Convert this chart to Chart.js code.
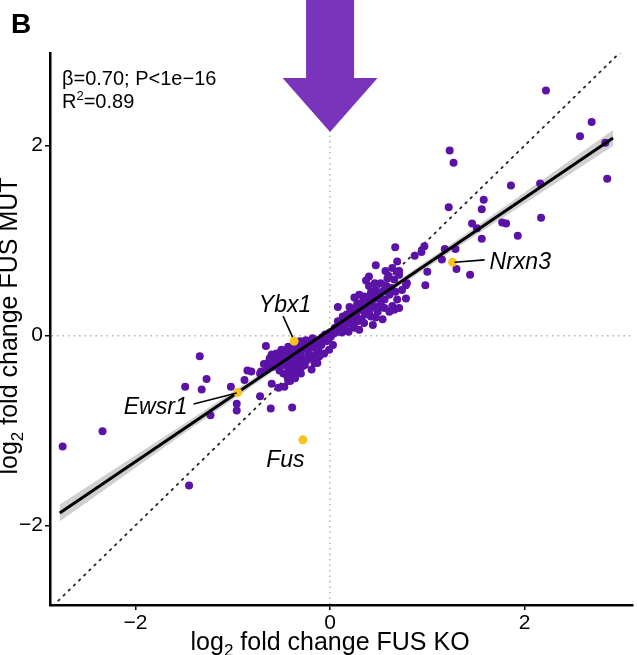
<!DOCTYPE html>
<html>
<head>
<meta charset="utf-8">
<script src="https://cdn.jsdelivr.net/npm/chart.js@4.4.0/dist/chart.umd.min.js"></script>
<style>
  html, body { margin: 0; padding: 0; background: #fff; }
  canvas { display: block; }
</style>
</head>
<body>
<canvas id="scatter" width="637" height="655"></canvas>
<script>
// log2 fold change: [FUS KO, FUS MUT] for each gene
const purplePoints = [
  [-2.75, -1.17], [-2.34, -1.01], [-1.45, -1.58], [-1.34, -0.22], [-1.27, -0.46], [-1.49, -0.54],
  [-1.32, -0.57], [-1.02, -0.54], [-0.96, -0.72], [-0.96, -0.79], [-1.23, -0.84],
  [-0.66, -0.11], [-0.85, -0.37], [-0.81, -0.38], [-0.88, -0.47], [-0.71, -0.38], [-0.72, -0.64],
  [-0.61, -0.77], [-0.39, -0.76], [-0.60, -0.51], [-0.53, -0.55], [-0.47, -0.54], [-0.41, -0.48],
  [-0.42, -0.41], [-0.30, -0.40], [-0.27, -0.31], [-0.36, -0.33], [-0.16, -0.29], [-0.11, -0.22],
  [-0.72, -0.40],
  [-0.31, -0.06], [-0.25, -0.05], [-0.18, -0.03], [-0.13, -0.06], [-0.28, -0.12], [-0.36, -0.13],
  [-0.43, -0.12], [-0.50, -0.15], [-0.55, -0.19], [-0.47, -0.20], [-0.40, -0.19], [-0.33, -0.17],
  [-0.23, -0.15], [-0.16, -0.13], [-0.09, -0.10], [-0.04, -0.06], [-0.53, -0.26], [-0.45, -0.27],
  [-0.36, -0.26], [-0.28, -0.24], [-0.21, -0.22], [-0.14, -0.20], [-0.26, -0.31], [-0.33, -0.34],
  [-0.42, -0.36], [-0.48, -0.40], [-0.59, -0.33], [-0.64, -0.29], [-0.60, -0.20], [-0.52, -0.31],
  [0.01, -0.01], [0.06, 0.04], [0.11, 0.08], [0.18, 0.13], [0.23, 0.18], [0.08, 0.15],
  [0.03, -0.10], [-0.01, -0.15], [-0.06, -0.19], [-0.19, -0.36], [-0.13, -0.29], [-0.36, -0.45],
  [-0.43, -0.48], [-0.20, -0.10], [-0.08, -0.02], [-0.05, 0.01], [-0.02, -0.04], [0.04, 0.02],
  [0.00, 0.03], [-0.15, -0.05], [-0.35, -0.09], [-0.40, -0.22], [-0.30, -0.20], [-0.22, -0.18],
  [-0.12, -0.14], [-0.50, -0.23], [-0.56, -0.29], [-0.10, -0.20], [-0.01, -0.03],
  [-0.62, -0.24], [-0.57, -0.22], [-0.45, -0.16], [-0.38, -0.15], [-0.32, -0.10], [-0.26, -0.08],
  [-0.21, -0.06], [-0.17, -0.09], [-0.11, -0.08], [-0.07, -0.05], [-0.03, -0.01], [-0.45, -0.32],
  [-0.39, -0.29], [-0.31, -0.27], [-0.24, -0.26], [-0.18, -0.24], [-0.52, -0.37], [-0.44, -0.43],
  [-0.37, -0.39], [-0.29, -0.33], [-0.65, -0.36], [-0.68, -0.30], [-0.25, -0.14], [-0.34, -0.22],
  [-0.48, -0.28],
  [0.37, 0.58], [0.40, 0.52], [0.47, 0.48], [0.25, 0.40], [0.30, 0.43], [0.35, 0.41],
  [0.42, 0.45], [0.49, 0.39], [0.56, 0.38], [0.61, 0.43], [0.59, 0.60], [0.66, 0.59],
  [0.71, 0.64], [0.69, 0.67], [0.79, 0.55], [0.74, 0.48], [0.69, 0.38], [0.78, 0.39],
  [0.64, 0.31], [0.61, 0.25], [0.52, 0.32], [0.45, 0.31], [0.39, 0.29], [0.32, 0.27],
  [0.27, 0.22], [0.22, 0.20], [0.18, 0.17], [0.15, 0.13], [0.11, 0.10], [0.07, 0.04],
  [0.23, 0.11], [0.32, 0.17], [0.42, 0.20], [0.49, 0.25], [0.56, 0.29], [0.39, 0.35],
  [0.28, 0.34], [0.20, 0.30], [0.08, 0.30], [0.16, 0.06], [0.25, 0.08], [0.35, 0.13],
  [0.44, 0.11], [0.54, 0.17], [0.66, 0.27], [0.71, 0.29], [0.13, 0.20],
  [0.05, 0.08], [0.09, 0.12], [0.13, 0.16], [0.17, 0.22], [0.21, 0.25], [0.26, 0.29],
  [0.30, 0.31], [0.34, 0.36], [0.38, 0.40], [0.43, 0.38], [0.47, 0.42], [0.51, 0.44],
  [0.55, 0.47], [0.58, 0.52], [0.52, 0.55], [0.46, 0.55], [0.63, 0.50], [0.67, 0.46],
  [0.28, 0.15], [0.36, 0.22], [0.41, 0.27], [0.47, 0.19], [0.19, 0.04], [0.12, 0.03],
  [0.30, 0.06], [0.57, 0.68], [0.64, 0.71], [0.40, 0.62],
  [0.67, 0.93], [0.97, 0.94], [0.94, 0.88], [0.87, 0.84], [1.18, 0.91], [1.29, 0.91],
  [1.46, 1.18], [1.15, 0.80], [1.30, 0.70], [1.44, 0.64], [0.47, 0.74], [0.69, 0.78],
  [1.00, 0.67], [0.98, 0.53], [0.71, 0.68], [0.60, 0.63], [0.78, 0.53],
  [2.22, 2.58], [2.69, 2.25], [2.57, 2.10], [2.83, 2.03], [2.85, 1.65], [1.23, 1.95],
  [1.27, 1.82], [1.86, 1.58], [2.16, 1.60], [1.58, 1.43], [1.56, 1.33], [1.22, 1.35],
  [1.51, 1.13], [1.77, 1.19], [1.81, 1.18], [2.17, 1.24], [1.93, 1.05], [1.56, 1.02]
];

const highlightNames = ['Ybx1', 'Ewsr1', 'Nrxn3', 'Fus'];
const highlightKO = [-0.37, -0.95, 1.26, -0.28];
const highlightMUT = [-0.06, -0.60, 0.77, -1.10];

// regression line and its confidence band
const fitKO = [-2.78, 2.91];
const fitMUT = [-1.87, 2.08];
const bandKO = [-2.78, -1.5, 0, 1.5, 2.91];
const bandHigh = [-1.78, -0.93, 0.085, 1.145, 2.165];
const bandLow = [-1.96, -1.03, 0.035, 1.055, 1.995];

// identity line y = x
const diagKO = [-2.9, 3.1];

const xTicks = [-2, 0, 2];
const yTicks = [-2, 0, 2];
const statsLine = 'β=0.70; P<1e−16';
const r2Value = '=0.89';

const FONT = '"Liberation Sans", Arial, Helvetica, sans-serif';
const PURPLE = '#5B12A6';
const YELLOW = '#F7C31C';

const toXY = (xs, ys) => xs.map((x, i) => ({ x, y: ys[i] }));
const fmtTick = v => (v < 0 ? '\u2212' + Math.abs(v) : String(v));

// label placement relative to the gene point (pixels)
const labelPlace = {
  Ybx1: { dx: -9, dy: -29, align: 'center', lead: [-11, -25, -1.5, -4] },
  Ewsr1: { dx: -82, dy: 22, align: 'center', lead: [-44, 11.6, -1, 0.6] },
  Nrxn3: { dx: 37, dy: 6.5, align: 'left', lead: [2, -0.2, 32, -2.5] },
  Fus: { dx: -17.5, dy: 27, align: 'center', lead: null }
};

function drawParts(ctx, parts, x, y, align) {
  const widths = parts.map(p => {
    ctx.font = `${p.size}px ${FONT}`;
    return ctx.measureText(p.t).width;
  });
  const total = widths.reduce((a, b) => a + b, 0);
  let cx = align === 'center' ? x - total / 2 : x;
  ctx.textAlign = 'left';
  ctx.textBaseline = 'alphabetic';
  parts.forEach((p, i) => {
    ctx.font = `${p.size}px ${FONT}`;
    ctx.fillText(p.t, cx, y + (p.dy || 0));
    cx += widths[i];
  });
}

const annotate = {
  id: 'annotate',
  afterDraw(chart) {
    const { ctx, scales: { x, y } } = chart;
    ctx.save();
    ctx.fillStyle = '#000';
    ctx.strokeStyle = '#000';

    // gene labels with leader lines
    highlightNames.forEach((name, i) => {
      const px = x.getPixelForValue(highlightKO[i]);
      const py = y.getPixelForValue(highlightMUT[i]);
      const p = labelPlace[name];
      if (p.lead) {
        ctx.lineWidth = 1.6;
        ctx.beginPath();
        ctx.moveTo(px + p.lead[0], py + p.lead[1]);
        ctx.lineTo(px + p.lead[2], py + p.lead[3]);
        ctx.stroke();
      }
      ctx.font = `italic 23px ${FONT}`;
      ctx.textAlign = p.align;
      ctx.textBaseline = 'alphabetic';
      ctx.fillText(name, px + p.dx, py + p.dy);
    });

    // panel letter
    ctx.font = `bold 28px ${FONT}`;
    ctx.textAlign = 'left';
    ctx.fillText('B', 11, 33);

    // stats
    ctx.font = `20px ${FONT}`;
    ctx.fillText(statsLine, 62, 85);
    drawParts(ctx, [{ t: 'R', size: 20 }, { t: '2', size: 13, dy: -8 }, { t: r2Value, size: 20 }], 62, 108, 'left');

    // axis titles
    drawParts(ctx, [{ t: 'log', size: 25 }, { t: '2', size: 17, dy: 6 }, { t: ' fold change FUS KO', size: 25 }],
      x.getPixelForValue(0), 650, 'center');
    ctx.save();
    ctx.translate(17, 326);
    ctx.rotate(-Math.PI / 2);
    drawParts(ctx, [{ t: 'log', size: 25 }, { t: '2', size: 17, dy: 6 }, { t: ' fold change FUS MUT', size: 25 }],
      0, 0, 'center');
    ctx.restore();

    // purple arrow pointing down at x = 0
    const cx = x.getPixelForValue(0);
    ctx.fillStyle = '#7A33BB';
    ctx.beginPath();
    ctx.moveTo(cx - 24, 0);
    ctx.lineTo(cx + 24, 0);
    ctx.lineTo(cx + 24, 78);
    ctx.lineTo(cx + 47.5, 78);
    ctx.lineTo(cx, 132);
    ctx.lineTo(cx - 47.5, 78);
    ctx.lineTo(cx - 24, 78);
    ctx.closePath();
    ctx.fill();
    ctx.restore();
  }
};

const zeroGrid = ctx => (ctx.tick && ctx.tick.value === 0 ? '#b4b4b4' : 'rgba(0,0,0,0)');

new Chart(document.getElementById('scatter'), {
  type: 'scatter',
  data: {
    datasets: [
      {
        label: 'band', data: toXY(bandKO, bandHigh), showLine: true, pointRadius: 0,
        borderColor: 'rgba(0,0,0,0)', borderWidth: 0, backgroundColor: 'rgba(150,150,150,0.45)',
        fill: '+1', order: 5
      },
      {
        label: 'band low', data: toXY(bandKO, bandLow), showLine: true, pointRadius: 0,
        borderColor: 'rgba(0,0,0,0)', borderWidth: 0, fill: false, order: 5
      },
      {
        label: 'identity', data: toXY(diagKO, diagKO), showLine: true, pointRadius: 0,
        borderColor: '#222', borderWidth: 1.8, borderDash: [1.6, 5.6], borderCapStyle: 'round',
        fill: false, order: 4
      },
      {
        label: 'genes', data: purplePoints.map(([a, b]) => ({ x: a, y: b })),
        pointRadius: 4, pointBackgroundColor: PURPLE, pointBorderWidth: 0, order: 3
      },
      {
        label: 'fit', data: toXY(fitKO, fitMUT), showLine: true, pointRadius: 0,
        borderColor: '#000', borderWidth: 3, fill: false, order: 2
      },
      {
        label: 'highlight', data: toXY(highlightKO, highlightMUT),
        pointRadius: 4.5, pointBackgroundColor: YELLOW, pointBorderWidth: 0, order: 1
      }
    ]
  },
  options: {
    responsive: false,
    animation: false,
    devicePixelRatio: 1,
    layout: { padding: { top: 53, left: 0, right: 0, bottom: 0 } },
    plugins: { legend: { display: false }, tooltip: { enabled: false } },
    scales: {
      x: {
        type: 'linear', min: -2.88, max: 3.11,
        afterFit: s => { s.height = 50; },
        afterBuildTicks: s => { s.ticks = xTicks.map(v => ({ value: v })); },
        ticks: { color: '#000', font: { family: FONT, size: 21 }, padding: 1, maxRotation: 0, callback: fmtTick },
        grid: { color: zeroGrid, lineWidth: 1.5, tickColor: '#000', tickLength: 5, tickWidth: 1.5 },
        border: { display: true, color: '#000', width: 2.5, dash: [1.5, 4] }
      },
      y: {
        type: 'linear', min: -2.84, max: 2.976,
        afterFit: s => { s.width = 50; },
        afterBuildTicks: s => { s.ticks = yTicks.map(v => ({ value: v })); },
        ticks: { color: '#000', font: { family: FONT, size: 21 }, padding: 2, callback: fmtTick },
        grid: { color: zeroGrid, lineWidth: 1.5, tickColor: '#000', tickLength: 5, tickWidth: 1.5 },
        border: { display: true, color: '#000', width: 2.5, dash: [1.5, 4] }
      }
    }
  },
  plugins: [annotate]
});
</script>
</body>
</html>
